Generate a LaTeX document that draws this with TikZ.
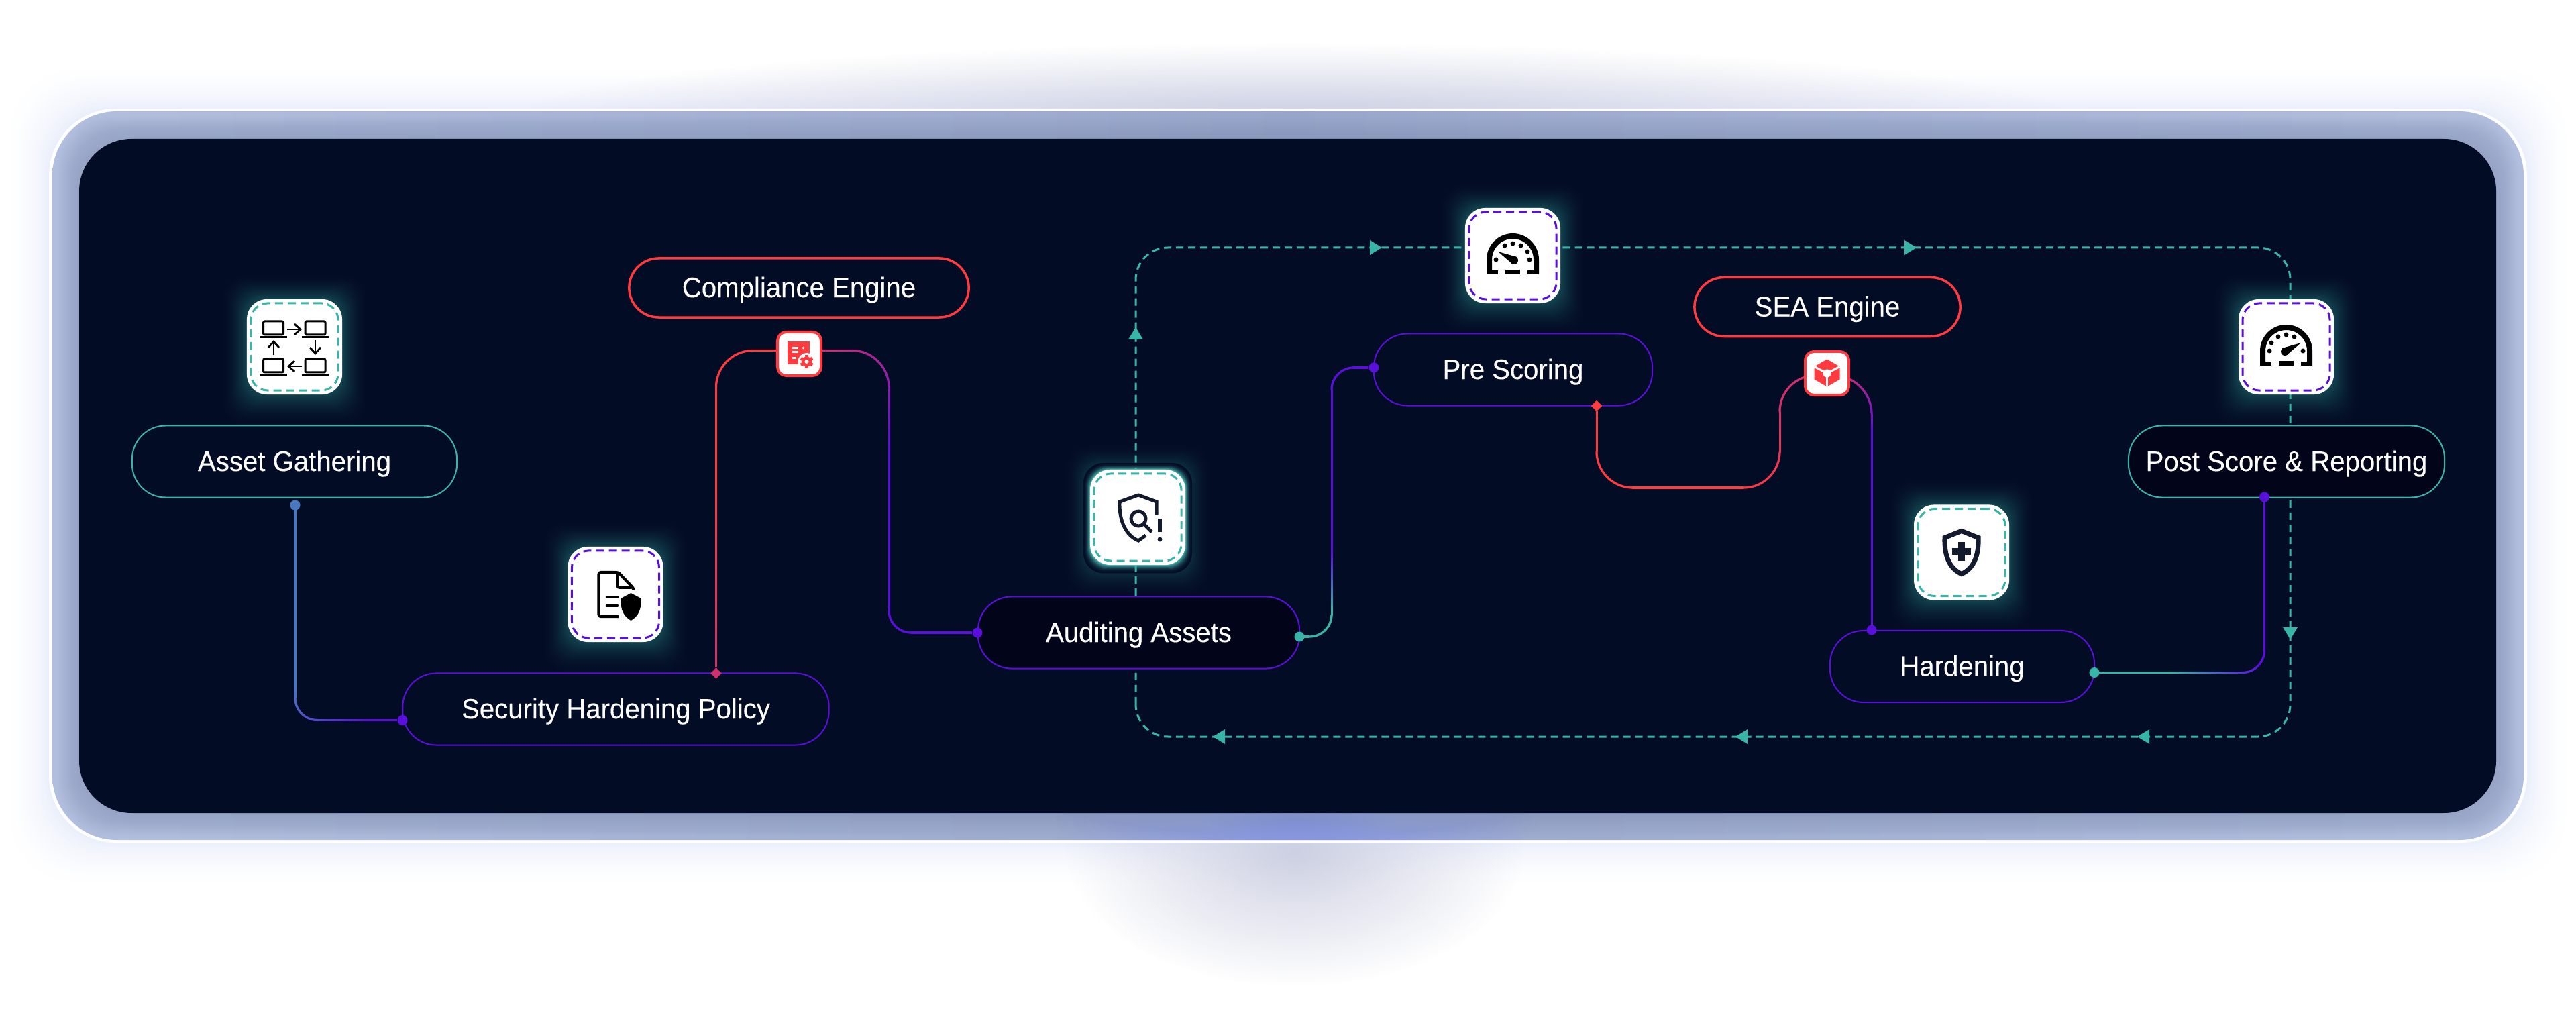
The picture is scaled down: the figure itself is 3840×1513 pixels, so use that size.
\documentclass[tikz,border=0pt]{standalone}
\usepackage{fontspec}
\setmainfont{Liberation Sans}[FakeBold=0.2,FakeStretch=0.96]
\usetikzlibrary{arrows.meta,decorations.markings,fadings,shapes.geometric}

\definecolor{navy}{HTML}{030C25}
\definecolor{deepnavy}{HTML}{02051A}
\definecolor{flowteal}{HTML}{38B5A9}
\definecolor{violet}{HTML}{5B0FDC}
\definecolor{alarmred}{HTML}{FF3B3F}
\definecolor{rosepink}{HTML}{D2306C}
\definecolor{steelblue}{HTML}{4A78C0}
\definecolor{inkdark}{HTML}{141A2E}
\definecolor{glowteal}{HTML}{134550}
\definecolor{rimteal}{HTML}{4CC8BC}
\definecolor{bandmid}{HTML}{98A6CB}
\definecolor{bandend}{HTML}{B2BEDD}
\definecolor{bandshade}{HTML}{8A98BC}
\definecolor{haloblue}{HTML}{E9EEFB}
\definecolor{shadowgrey}{HTML}{CDD0E2}
\definecolor{spotblue}{HTML}{7F8FE6}

\tikzfading[name=softspot, inner color=transparent!0, outer color=transparent!100]
\pgfdeclarelayer{panel}
\pgfdeclarelayer{wire}
\pgfsetlayers{panel,wire,main}

\tikzset{
    pill/.style={draw=#1, fill=navy, text=white, rounded corners=.5cm, inner sep=0pt,
        line width=.02cm, font=\fontsize{11.9}{14}\selectfont, text height=.28cm, text depth=0cm},
    redpill/.style={pill=alarmred, line width=.035cm, rounded corners=.44cm},
    card/.style={fill=white, rounded corners=.3cm, minimum width=1.42cm, minimum height=1.42cm, inner sep=0pt},
    carddash/.style={draw=#1, rounded corners=.25cm, minimum width=1.3cm, minimum height=1.3cm, inner sep=0pt,
        line width=.03cm, dash pattern=on .12cm off .07cm},
    redcard/.style={fill=white, draw=alarmred, line width=.04cm, rounded corners=.13cm,
        minimum width=.65cm, minimum height=.65cm, inner sep=0pt},
    port/.style={circle, fill=#1, minimum size=.15cm, inner sep=0pt},
    gem/.style={diamond, fill=#1, minimum size=.17cm, inner sep=0pt},
    flowline/.style={draw=flowteal, line width=.03cm, dash pattern=on .11cm off .07cm},
    wire/.style n args={4}{postaction={decorate}, decoration={markings,
        mark=between positions 0 and 1 step .35pt with {
            \pgfmathsetmacro\wiremix{max(0,min(100,(\pgfkeysvalueof{/pgf/decoration/mark info/distance from start}/\pgfdecoratedpathlength*100-#3)/(#4-#3)*100))}
            \fill[#2!\wiremix!#1, sharp corners] (-.3pt,-.43pt) rectangle (.3pt,.43pt);
        }}},
    glyph/.style={line width=.05cm, draw=inkdark},
}

% halo around an icon card: centre, rim colour, reach
\newcommand{\cardglow}[3]{
    \begin{scope}[shift={(#1)}]
        \foreach \g in {#3,...,1} {
            \pgfmathsetmacro\glowmix{100*(1-\g/#3)*(1-\g/#3)}
            \fill[#2!\glowmix!navy, rounded corners=.3cm] (-71-\g,-71-\g) rectangle (71+\g,71+\g+.25*\g);
        }
    \end{scope}
}

\begin{document}
\begin{tikzpicture}[x=.01cm,y=-.01cm]
    \useasboundingbox (0,0) rectangle (3840,1513);

    \begin{pgfonlayer}{panel}
        \fill[white] (0,0) rectangle (3840,1513);
        % soft shadows behind the frame
        \foreach \g in {70,66,...,2} {
            \pgfmathsetmacro\halomix{100*(1-\g/70)*(1-\g/70)}
            \fill[haloblue!\halomix!white, rounded corners=.98cm] (73-\g,162-\g) rectangle (3767+\g,1256+\g);
        }
        \fill[shadowgrey, path fading=softspot] (1930,175) ellipse (1150 and 110);
        \fill[shadowgrey, path fading=softspot] (1930,1270) ellipse (340 and 200);

        % frame
        \fill[white, rounded corners=1cm] (73,162) rectangle (3767,1256);
        \shade[left color=bandend, right color=bandend, middle color=bandmid, rounded corners=.96cm] (78,166) rectangle (3762,1252);
        \begin{scope}
            \clip[rounded corners=.96cm] (78,166) rectangle (3762,1252);
            \fill[spotblue, path fading=softspot] (1935,1222) ellipse (360 and 75);
        \end{scope}
        \foreach \g in {32,30,...,2} {
            \fill[bandshade, opacity=.05, rounded corners=.78cm] (118-\g,207-\g) rectangle (3721+\g,1212+\g);
        }
        \fill[navy, rounded corners=.78cm] (118,207) rectangle (3721,1212);

        % glows
        \cardglow{439,517}{glowteal}{40}
        \cardglow{917.5,886}{glowteal}{40}
        \cardglow{2255,381}{glowteal}{40}
        \cardglow{3408,517}{glowteal}{40}
        \cardglow{2924,823.5}{glowteal}{40}
        \cardglow{1696,771}{glowteal}{40}
        \cardglow{1696,771}{rimteal}{10}

        % outer dashed loop
        \coordinate (loopNW) at (1693,369);
        \coordinate (loopNE) at (3414,369);
        \coordinate (loopSE) at (3414,1098);
        \coordinate (loopSW) at (1693,1098);
        \draw[flowline, rounded corners=.48cm] (loopSW) -- (loopNW) -- (loopNE) -- (loopSE) -- cycle;
        \foreach \tx/\ty/\ta in {1693/497/90, 2051/369/0, 2848/369/0, 3414/944/-90, 3195/1098/180, 2596/1098/180, 1817/1098/180} {
            \fill[flowteal, shift={(\tx,\ty)}, rotate=\ta] (9,0) -- (-9,11) -- (-9,-11) -- cycle;
        }
    \end{pgfonlayer}

    % stages
    \node[pill=flowteal, minimum width=4.84cm, minimum height=1.07cm] (gather) at (439,688) {Asset Gathering};
    \node[pill=violet, minimum width=6.35cm, minimum height=1.07cm] (policy) at (918,1057) {Security Hardening Policy};
    \node[redpill, minimum width=5.06cm, minimum height=.88cm] (compliance) at (1191,429) {Compliance Engine};
    \node[pill=violet, fill=deepnavy, minimum width=4.79cm, minimum height=1.07cm] (audit) at (1697.5,943) {Auditing Assets};
    \node[pill=violet, minimum width=4.15cm, minimum height=1.07cm] (prescore) at (2255.5,551) {Pre Scoring};
    \node[redpill, minimum width=3.96cm, minimum height=.88cm] (sea) at (2724,457.5) {SEA Engine};
    \node[pill=violet, minimum width=3.94cm, minimum height=1.07cm] (harden) at (2925,993.5) {Hardening};
    \node[pill=flowteal, fill=deepnavy, minimum width=4.71cm, minimum height=1.07cm] (post) at (3408.5,688) {Post Score \& Reporting};

    % cards
    \node[card] (gatherCard) at (439,517) {};
    \node[carddash=flowteal] (gatherDash) at (gatherCard) {};
    \node[card] (policyCard) at (917.5,886) {};
    \node[carddash=violet] (policyDash) at (policyCard) {};
    \node[card] (auditCard) at (1696,771) {};
    \node[carddash=flowteal] (auditDash) at (auditCard) {};
    \node[card] (prescoreCard) at (2255,381) {};
    \node[carddash=violet] (prescoreDash) at (prescoreCard) {};
    \node[card] (hardenCard) at (2924,823.5) {};
    \node[carddash=flowteal] (hardenDash) at (hardenCard) {};
    \node[card] (postCard) at (3408,517) {};
    \node[carddash=violet] (postDash) at (postCard) {};
    \node[redcard] (complianceCard) at (1191.5,527.5) {};
    \node[redcard] (seaCard) at (2723.5,556.5) {};

    % ports
    \node[port=steelblue] (gatherOut) at (440,753) {};
    \node[port=violet] (policyIn) at (600,1073.5) {};
    \node[gem=rosepink] (policyOut) at (1067.5,1003.5) {};
    \node[port=violet] (auditIn) at (1457,943) {};
    \node[port=flowteal] (auditOut) at (1937,949) {};
    \node[port=violet] (prescoreIn) at (2048,548) {};
    \node[gem=alarmred] (prescoreOut) at (2380,605) {};
    \node[port=violet] (hardenIn) at (2790,939) {};
    \node[port=flowteal] (hardenOut) at (3122,1002.5) {};
    \node[port=violet] (postIn) at (3375.5,741) {};

    % connectors
    \coordinate (complianceBend) at (1325,700);
    \coordinate (auditBend) at (1985,750);
    \coordinate (prescoreLow) at (2653,727);
    \begin{pgfonlayer}{wire}
        \path[wire={steelblue}{violet}{58}{90}, rounded corners=.33cm] (gatherOut) |- (policyIn);
        \path[wire={rosepink}{alarmred}{0}{45}, rounded corners=.55cm] (policyOut) |- ([yshift=.05cm]complianceCard.center);
        \path[wire={rosepink}{violet}{5}{40}, rounded corners=.55cm] ([yshift=.05cm]complianceCard.center) -| (complianceBend) [rounded corners=.33cm] |- (auditIn);
        \path[wire={flowteal}{violet}{14}{32}, rounded corners=.33cm] (auditOut) -| (auditBend) |- (prescoreIn);
        \path[wire={alarmred}{rosepink}{55}{85}, rounded corners=.54cm] (prescoreOut) |- (prescoreLow) |- ([yshift=-.03cm]seaCard.center);
        \path[wire={rosepink}{violet}{5}{30}, rounded corners=.58cm] ([yshift=-.03cm]seaCard.center) -| (hardenIn);
        \path[wire={flowteal}{violet}{22}{50}, rounded corners=.33cm] (hardenOut) -| (postIn);
    \end{pgfonlayer}

    % laptops in a ring
    \begin{scope}[shift={(gatherCard.center)}]
        \foreach \lx/\ly in {-31.5/-28, 31/-28, -31.5/28, 31/28} {
            \draw[line width=.03cm, rounded corners=.02cm] (\lx-15,\ly+10) rectangle (\lx+15,\ly-10);
            \fill (\lx-20,\ly+12) rectangle (\lx+20,\ly+15);
        }
        \draw[line width=.028cm, -{Straight Barb[length=.09cm,width=.16cm]}] (-11,-26) -- (11,-26);
        \draw[line width=.028cm, -{Straight Barb[length=.09cm,width=.16cm]}] (31,-10) -- (31,12);
        \draw[line width=.028cm, -{Straight Barb[length=.09cm,width=.16cm]}] (11,29) -- (-11,29);
        \draw[line width=.028cm, -{Straight Barb[length=.09cm,width=.16cm]}] (-31,12) -- (-31,-10);
    \end{scope}

    % document and shield
    \begin{scope}[shift={(policyCard.center)}]
        \draw[line width=.042cm, line join=round, rounded corners=.03cm] (9,33) -- (-25,33) -- (-25,-33) -- (4,-33) -- (27,-9) -- (27,-4);
        \draw[line width=.035cm, line join=round] (3,-32) -- (3,-12) [rounded corners=.02cm] -- (3,-10) -- (24,-10);
        \draw[line width=.035cm, line cap=round] (-13,4) -- (3,4);
        \draw[line width=.035cm, line cap=round] (-13,17) -- (3,17);
        \fill[white] (4,-6) rectangle (42,42);
        \fill (23,-2) -- (38,6) .. controls (39,22) and (34,33) .. (23,39) .. controls (12,33) and (7,22) .. (8,6) -- cycle;
    \end{scope}

    % shield with lens
    \begin{scope}[shift={(auditCard.center)}]
        \draw[glyph, line join=miter] (28,-4) -- (28,-23) -- (1,-33) -- (-27,-23) .. controls (-28,5) and (-18,27) .. (1,35) -- (12,27);
        \draw[glyph] (1,2) circle (11);
        \draw[glyph] (9,10) -- (21,22);
        \draw[inkdark, line width=.055cm] (33,2) -- (33,22);
        \fill[inkdark] (33,33) circle (3.5);
    \end{scope}

    % gauge, needle to the left
    \begin{scope}[shift={(prescoreCard.center)}]
        \draw[line width=.08cm] (-35,28) -- (-35,6) arc (180:360:35) -- (35,28);
        \fill (-32,22) rectangle (-22,28);
        \fill (32,22) rectangle (22,28);
        \fill (-11,21) rectangle (11,28);
        \foreach \dx/\dy in {-25/6, -12/-15, 0/-18, 12/-15, 22/-6, 25/6} {
            \fill (\dx,\dy) circle (3.5);
        }
        \fill (-22,-6) -- (6,2) -- (-1,12) -- cycle;
        \fill (2,7) circle (6);
    \end{scope}

    % gauge, needle to the right
    \begin{scope}[shift={(postCard.center)}, xscale=-1]
        \draw[line width=.08cm] (-35,28) -- (-35,6) arc (180:360:35) -- (35,28);
        \fill (-32,22) rectangle (-22,28);
        \fill (32,22) rectangle (22,28);
        \fill (-11,21) rectangle (11,28);
        \foreach \dx/\dy in {-25/6, -12/-15, 0/-18, 12/-15, 22/-6, 25/6} {
            \fill (\dx,\dy) circle (3.5);
        }
        \fill (-22,-6) -- (6,2) -- (-1,12) -- cycle;
        \fill (2,7) circle (6);
    \end{scope}

    % shield with cross
    \begin{scope}[shift={(hardenCard.center)}]
        \draw[inkdark, line width=.07cm, line join=miter] (0,-32) -- (25,-22) .. controls (26,5) and (18,24) .. (0,32) .. controls (-18,24) and (-26,5) .. (-25,-22) -- cycle;
        \fill[inkdark] (-5,-15) rectangle (5,13);
        \fill[inkdark] (-14,-6) rectangle (14,4);
    \end{scope}

    % report with gear
    \begin{scope}[shift={(complianceCard.center)}]
        \fill[alarmred] (-17.5,-18) rectangle (15,16);
        \fill[white] (-11,-10) rectangle (-2,-7);
        \fill[white] (-11,-4) rectangle (-2,-1);
        \fill[white] (-11,5) rectangle (-5,8);
        \fill[white] (6,-9) circle (1.8);
        \fill[white] (11,11.5) circle (13);
        \fill[alarmred] (11,11.5) circle (7.5);
        \foreach \ga in {0,60,...,300} {
            \fill[alarmred, shift={(11,11.5)}, rotate=\ga] (-2.5,-10) rectangle (2.5,-6);
        }
        \fill[white] (11,11.5) circle (3);
    \end{scope}

    % cube
    \begin{scope}[shift={(seaCard.center)}]
        \fill[alarmred] (0,-21) -- (19,-10) -- (19,9) -- (0,20) -- (-19,9) -- (-19,-10) -- cycle;
        \draw[white, line width=.03cm] (-19,-10) -- (0,0) -- (19,-10);
        \draw[white, line width=.03cm] (0,0) -- (0,20);
        \fill[white] (0,0) circle (6);
    \end{scope}
\end{tikzpicture}
\end{document}
